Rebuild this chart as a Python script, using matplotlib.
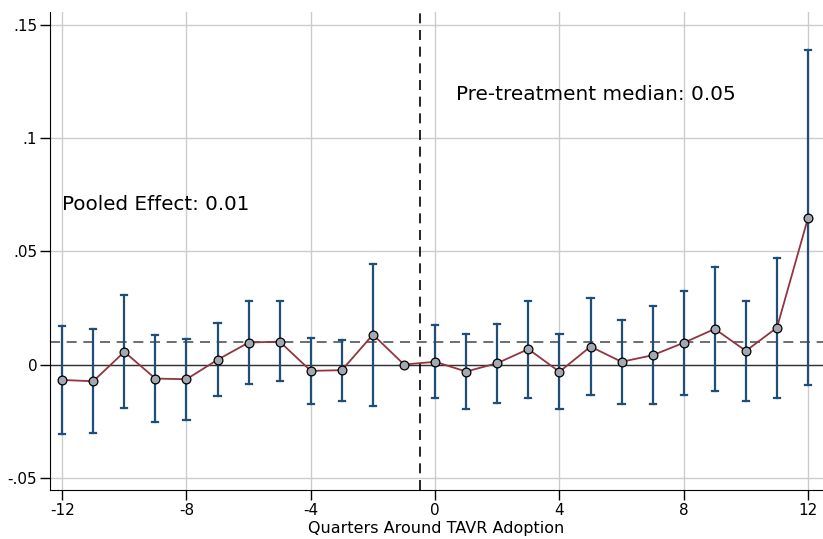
import numpy as np
import matplotlib
matplotlib.use("Agg")
import matplotlib.pyplot as plt

plt.rcParams["axes.unicode_minus"] = False

# event-study estimates
quarters = list(range(-12, 13))
coef = [-0.0068, -0.0074, 0.0056, -0.0062, -0.0065, 0.0021, 0.0097, 0.0101,
        -0.0028, -0.0025, 0.0132, 0.0, 0.0012, -0.0031, 0.0006, 0.0068,
        -0.0032, 0.0079, 0.0012, 0.0041, 0.0096, 0.0157, 0.0060, 0.0163, 0.0648]
ci_hi = [0.0171, 0.0156, 0.0306, 0.0129, 0.0112, 0.0185, 0.0282, 0.0279,
         0.0116, 0.0110, 0.0445, None, 0.0174, 0.0134, 0.0181, 0.0281,
         0.0134, 0.0293, 0.0196, 0.0259, 0.0324, 0.0431, 0.0282, 0.0471, 0.1386]
ci_lo = [-0.0307, -0.0304, -0.0194, -0.0253, -0.0244, -0.0141, -0.0088, -0.0074,
         -0.0174, -0.0163, -0.0184, None, -0.0149, -0.0196, -0.0168, -0.0146,
         -0.0196, -0.0135, -0.0174, -0.0174, -0.0135, -0.0116, -0.0160, -0.0147, -0.0090]
pooled = 0.01
pre_median = 0.05

yticks = [-0.05, 0, 0.05, 0.1, 0.15]
ytick_labels = ["-.05", "0", ".05", ".1", ".15"]
xticks = [-12, -8, -4, 0, 4, 8, 12]

fig = plt.figure(figsize=(8.23, 5.39), dpi=100)
ax = fig.add_axes([0.0604, 0.0904, 0.9396, 0.8866])

# confidence intervals (skip the omitted reference period)
for q, lo, hi in zip(quarters, ci_lo, ci_hi):
    if lo is None:
        continue
    ax.plot([q, q], [lo, hi], color="#1f4e79", lw=1.6, zorder=3)
    ax.plot([q - 0.1, q + 0.1], [hi, hi], color="#1f4e79", lw=1.6, zorder=3)
    ax.plot([q - 0.1, q + 0.1], [lo, lo], color="#1f4e79", lw=1.6, zorder=3)

ax.plot(quarters, coef, color="#923540", lw=1.3, zorder=4)
ax.scatter(quarters, coef, s=40, color="#a2a9b3", edgecolor="black",
           linewidth=0.9, zorder=5)

ax.axhline(0, color="#333333", lw=1.0, zorder=2)
ax.axhline(pooled, color="#555555", lw=1.2, ls=(0, (6, 4)), zorder=2)
ax.axvline(-0.5, color="black", lw=1.2, ls=(0, (6, 4)), zorder=2)

ax.text(-12, 0.0704, f"Pooled Effect: {pooled:.2f}", fontsize=14.3,
        va="center", ha="left")
ax.text(0.67, 0.119, f"Pre-treatment median: {pre_median:.2f}", fontsize=14.4,
        va="center", ha="left")

ax.set_xlim(-12.4, 12.48)
ax.set_ylim(-0.0555, 0.1554)
ax.set_xticks(xticks)
ax.set_yticks(yticks)
ax.set_yticklabels(ytick_labels)
ax.tick_params(axis="both", labelsize=11, length=7, width=1, pad=2)
ax.grid(True, color="#cccccc", lw=1.0, zorder=0)
ax.set_axisbelow(True)
for side in ["top", "right"]:
    ax.spines[side].set_visible(False)
ax.set_xlabel("Quarters Around TAVR Adoption", fontsize=11.5, labelpad=2)

fig.savefig("out.png", dpi=100)
